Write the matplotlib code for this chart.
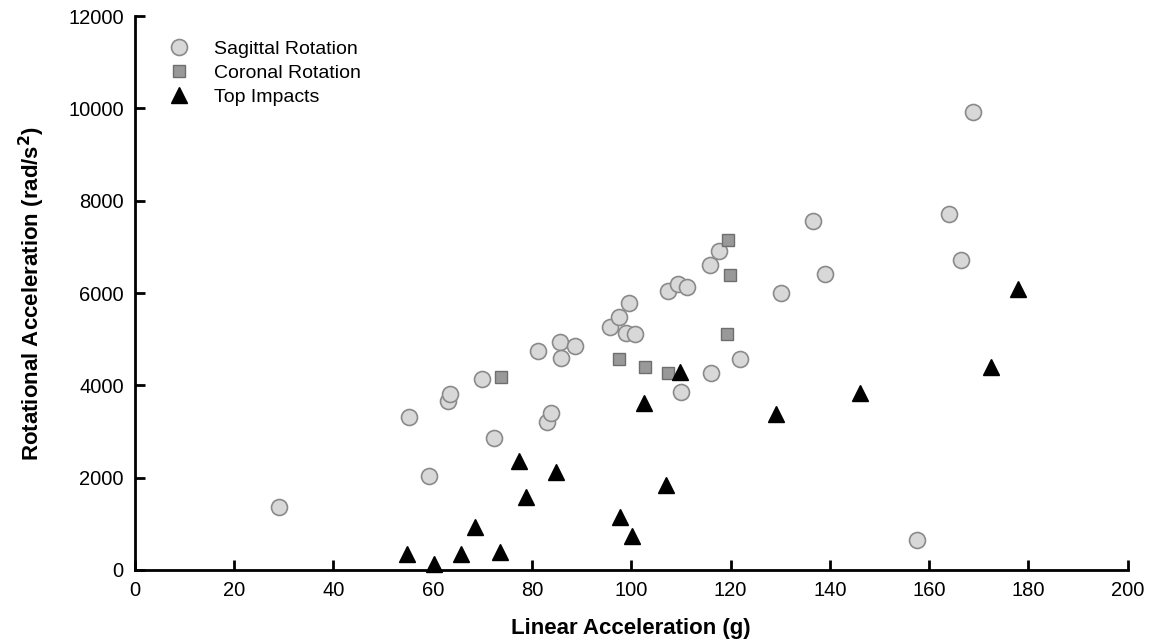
import matplotlib.pyplot as plt

plt.rcParams['font.family'] = ['Liberation Sans', 'DejaVu Sans']

# Sagittal rotation
sag_x = [29.0, 55.3, 59.2, 63.0, 63.4, 70.0, 72.3, 81.3, 83.0, 83.8, 85.6, 85.8,
         88.6, 95.8, 97.5, 99.6, 98.9, 100.7, 107.5, 109.5, 111.2, 115.9, 117.6,
         116.1, 110.0, 122.0, 130.2, 136.7, 139.0, 157.6, 164.1, 166.4, 168.8]
sag_y = [1370, 3320, 2040, 3650, 3810, 4130, 2850, 4740, 3200, 3410, 4940, 4600,
         4850, 5260, 5490, 5790, 5130, 5120, 6040, 6200, 6120, 6600, 6920,
         4260, 3850, 4560, 6000, 7550, 6420, 640, 7720, 6720, 9930]

# Coronal rotation
cor_x = [73.7, 97.5, 102.8, 107.5, 119.4, 119.9, 119.2]
cor_y = [4180, 4570, 4400, 4260, 7140, 6380, 5120]

# Top impacts
top_x = [54.8, 60.2, 65.6, 68.5, 73.6, 77.4, 78.8, 84.9, 97.7, 100.2, 106.9,
         102.5, 109.8, 129.2, 146.0, 172.5, 178.0]
top_y = [340, 120, 340, 920, 390, 2370, 1570, 2130, 1150, 740, 1840,
         3610, 4290, 3370, 3840, 4400, 6080]

fig = plt.figure(figsize=(11.53, 6.44), dpi=100)
ax = fig.add_axes([0.117, 0.115, 0.861, 0.860])

ax.plot(sag_x, sag_y, 'o', ms=11.5, mfc='#d8d8d8', mec='#8a8a8a', mew=1.2,
        label='Sagittal Rotation', clip_on=False, zorder=3)
ax.plot(cor_x, cor_y, 's', ms=8.5, mfc='#999999', mec='#6e6e6e', mew=1.0,
        label='Coronal Rotation', clip_on=False, zorder=3)
ax.plot(top_x, top_y, '^', ms=11, mfc='black', mec='black',
        label='Top Impacts', clip_on=False, zorder=4)

ax.set_xlim(0, 200)
ax.set_ylim(0, 12000)
ax.set_xticks(range(0, 201, 20))
ax.set_yticks(range(0, 12001, 2000))

for s in ['top', 'right']:
    ax.spines[s].set_visible(False)
for s in ['left', 'bottom']:
    ax.spines[s].set_linewidth(2)

ax.tick_params(direction='in', length=7, width=2, labelsize=14.5, pad=8)
ax.set_xlabel('Linear Acceleration (g)', fontsize=16, fontweight='bold', labelpad=13)
ax.set_ylabel('Rotational Acceleration (rad/s$^\\mathbf{2}$)', fontsize=16,
              fontweight='bold', labelpad=15)

ax.legend(loc='upper left', bbox_to_anchor=(0.017, 0.97), frameon=False,
          fontsize=14, handletextpad=0.8, labelspacing=0.32, borderaxespad=0)

fig.savefig('out.png', dpi=100)
